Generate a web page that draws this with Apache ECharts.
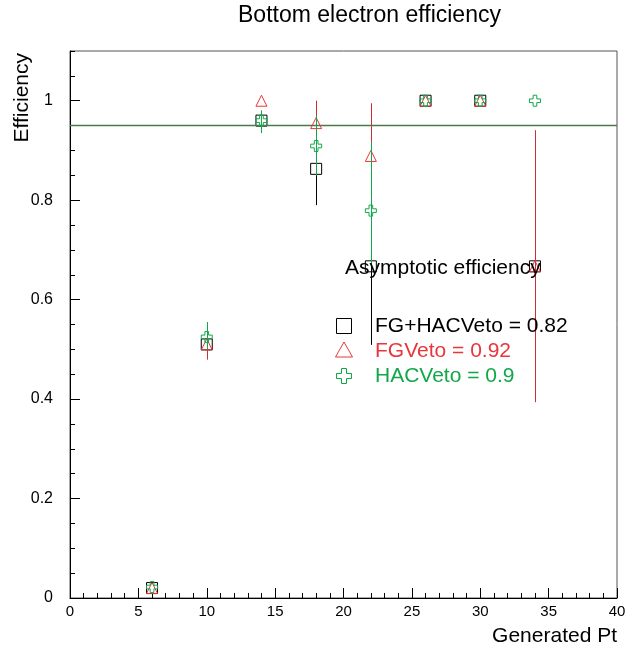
<!DOCTYPE html>
<html>
<head>
<meta charset="utf-8">
<script src="https://cdn.jsdelivr.net/npm/echarts@6/dist/echarts.min.js"></script>
<style>
html,body{margin:0;padding:0;background:#fff;}
#c{width:638px;height:646px;}
</style>
</head>
<body>
<div id="c"></div>
<script>
// ---- data ----
const titleText = "Bottom electron efficiency";
const xAxisName = "Generated Pt";
const yAxisName = "Efficiency";
const ptValues = [6, 10, 14, 18, 22, 26, 30, 34];
const effFGHAC = [0.02, 0.51, 0.96, 0.863, 0.667, 1.0, 1.0, 0.667];
const effFG    = [0.02, 0.51, 1.0, 0.955, 0.889, 1.0, 1.0, 0.667];
const effHAC   = [0.022, 0.525, 0.96, 0.909, 0.779, 1.0, 1.0, 1.0];
const errLoFGHAC = [null, 0.48, 0.94, 0.79, 0.509, null, null, 0.394];
const errHiFGHAC = [null, 0.54, 0.98, 0.93, 0.82, null, null, 0.94];
const errLoFG    = [null, 0.48, null, 0.85, 0.67, null, null, 0.394];
const errHiFG    = [null, 0.54, null, 1.0, 0.995, null, null, 0.94];
const errLoHAC   = [null, 0.5, 0.935, 0.85, 0.67, null, null, null];
const errHiHAC   = [null, 0.555, 0.98, 0.97, 0.917, null, null, null];
const fitLevel = [0.95];
const legendTitle = "Asymptotic efficiency";
const seriesNames = ["FG+HACVeto", "FGVeto", "HACVeto"];
const asymptotic = ["0.82", "0.92", "0.9"];
const xTicks = {min: 0, max: 40, major: 5, minor: 1};
const yTicks = {min: 0, max: 1.1, major: 0.2, minor: 0.05};

// ---- styles ----
const colBlack = "#000000";
const colRed = "#e8363a";
const colGreen = "#12a84a";
const crossPath = "path://M4,0 L8,0 L8,4 L12,4 L12,8 L8,8 L8,12 L4,12 L4,8 L0,8 L0,4 L4,4 Z";
const FONT = "'Liberation Sans', Arial, sans-serif";

function pts(vals) { return ptValues.map((x, i) => [x, vals[i]]); }
function errs(lo, hi) {
  const out = [];
  ptValues.forEach((x, i) => { if (lo[i] != null && hi[i] != null) out.push([x, lo[i], hi[i]]); });
  return out;
}
function errSeries(lo, hi, color, z) {
  return {
    type: 'custom', z: z, silent: true,
    data: errs(lo, hi),
    encode: {x: 0, y: [1, 2]},
    renderItem: function (params, api) {
      const a = api.coord([api.value(0), api.value(1)]);
      const b = api.coord([api.value(0), api.value(2)]);
      const x = Math.round(a[0]) + 0.5;
      return {type: 'line', shape: {x1: x, y1: a[1], x2: x, y2: b[1]},
        style: {stroke: color, lineWidth: 1}};
    }
  };
}
function ptSeries(name, vals, symbol, color, z) {
  return {
    name: name, type: 'scatter', z: z, silent: true,
    data: pts(vals), symbol: symbol, symbolSize: 11,
    itemStyle: {color: 'rgba(0,0,0,0)', borderColor: color, borderWidth: 1, opacity: 1},
    emphasis: {disabled: true}
  };
}
function crossPoints(cx, cy, h, a) {
  return [[cx - a, cy - h], [cx + a, cy - h], [cx + a, cy - a], [cx + h, cy - a], [cx + h, cy + a],
    [cx + a, cy + a], [cx + a, cy + h], [cx - a, cy + h], [cx - a, cy + a], [cx - h, cy + a],
    [cx - h, cy - a], [cx - a, cy - a]];
}

const chart = echarts.init(document.getElementById('c'), null, {renderer: 'canvas'});
const gridL = 70, gridR = 21, gridT = 51, gridB = 48;

const option = {
  animation: false,
  backgroundColor: '#ffffff',
  grid: {left: gridL, right: gridR, top: gridT, bottom: gridB, show: true,
    borderColor: '#555555', borderWidth: 1, backgroundColor: 'transparent'},
  xAxis: [{
    type: 'value', min: xTicks.min, max: xTicks.max, interval: xTicks.major,
    axisLine: {show: true, onZero: false, lineStyle: {color: '#000', width: 1}},
    axisTick: {show: true, inside: true, length: 10, lineStyle: {color: '#000'}},
    minorTick: {show: true, splitNumber: xTicks.major / xTicks.minor, length: 5, lineStyle: {color: '#000'}},
    splitLine: {show: false},
    axisLabel: {color: '#000', fontSize: 15, fontFamily: FONT, margin: 6}
  }],
  yAxis: [{
    type: 'value', min: yTicks.min, max: yTicks.max, interval: yTicks.major,
    axisLine: {show: true, onZero: false, lineStyle: {color: '#000', width: 1}},
    axisTick: {show: true, inside: true, length: 10, lineStyle: {color: '#000'}},
    splitLine: {show: false},
    axisLabel: {color: '#000', fontSize: 16, fontFamily: FONT, margin: 17, showMaxLabel: false}
  }, {
    type: 'value', min: yTicks.min, max: yTicks.max, interval: yTicks.minor, position: 'left',
    axisLine: {show: false},
    axisTick: {show: true, inside: true, length: 5, lineStyle: {color: '#000'}},
    splitLine: {show: false},
    axisLabel: {show: false}
  }],
  series: [
    {
      type: 'line', data: [], z: 1, silent: true,
      markLine: {silent: true, symbol: 'none', label: {show: false},
        lineStyle: {color: '#4a7a48', width: 1.3, type: 'solid'},
        data: fitLevel.map(v => ({yAxis: v}))}
    },
    errSeries(errLoFGHAC, errHiFGHAC, colBlack, 2),
    ptSeries(seriesNames[0], effFGHAC, 'rect', colBlack, 3),
    errSeries(errLoFG, errHiFG, '#cc2e32', 4),
    ptSeries(seriesNames[1], effFG, 'triangle', colRed, 5),
    errSeries(errLoHAC, errHiHAC, colGreen, 6),
    ptSeries(seriesNames[2], effHAC, crossPath, colGreen, 7)
  ],
  graphic: [
    {type: 'text', x: 238, y: 16, style: {text: titleText, font: '23px ' + FONT, fill: '#000',
      textAlign: 'left', textVerticalAlign: 'middle', align: 'left', verticalAlign: 'middle'}},
    {type: 'text', x: 617, y: 636, style: {text: xAxisName, font: '21px ' + FONT, fill: '#000',
      textAlign: 'right', textVerticalAlign: 'middle', align: 'right', verticalAlign: 'middle'}},
    {type: 'text', x: 22, y: 53, rotation: Math.PI / 2, style: {text: yAxisName, font: '21px ' + FONT, fill: '#000',
      textAlign: 'right', textVerticalAlign: 'middle', align: 'right', verticalAlign: 'middle'}},
    {type: 'text', x: 345, y: 268, z: 20, style: {text: legendTitle, font: '21px ' + FONT, fill: '#000',
      textAlign: 'left', textVerticalAlign: 'middle', align: 'left', verticalAlign: 'middle'}},
    {type: 'text', x: 375, y: 326, z: 20, style: {text: seriesNames[0] + ' = ' + asymptotic[0], font: '21px ' + FONT, fill: colBlack,
      textAlign: 'left', textVerticalAlign: 'middle', align: 'left', verticalAlign: 'middle'}},
    {type: 'text', x: 375, y: 351, z: 20, style: {text: seriesNames[1] + ' = ' + asymptotic[1], font: '21px ' + FONT, fill: colRed,
      textAlign: 'left', textVerticalAlign: 'middle', align: 'left', verticalAlign: 'middle'}},
    {type: 'text', x: 375, y: 376, z: 20, style: {text: seriesNames[2] + ' = ' + asymptotic[2], font: '21px ' + FONT, fill: colGreen,
      textAlign: 'left', textVerticalAlign: 'middle', align: 'left', verticalAlign: 'middle'}},
    {type: 'rect', z: 20, shape: {x: 336.5, y: 318.5, width: 15, height: 15}, style: {fill: 'none', stroke: colBlack, lineWidth: 1}},
    {type: 'polygon', z: 20, shape: {points: [[344, 342], [335.5, 357], [352.5, 357]]}, style: {fill: 'none', stroke: colRed, lineWidth: 1}},
    {type: 'polygon', z: 20, shape: {points: crossPoints(344, 376, 7.5, 2.5)}, style: {fill: 'none', stroke: colGreen, lineWidth: 1}}
  ]
};
chart.setOption(option);
</script>
</body>
</html>
